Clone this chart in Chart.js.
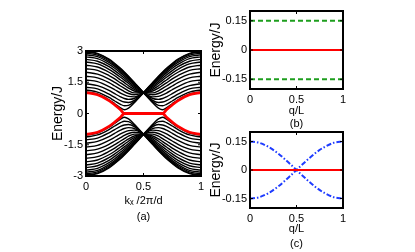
<!DOCTYPE html>
<html>
<head>
<meta charset="utf-8">
<script src="https://cdn.jsdelivr.net/npm/chart.js@4"></script>
<style>
  html, body { margin: 0; padding: 0; background: #fff; }
  body { width: 415px; height: 252px; position: relative; overflow: hidden; }
  canvas { position: absolute; }
</style>
</head>
<body>
<canvas id="chartA" width="166" height="185" style="left:45px;top:40px"></canvas>
<canvas id="chartB" width="150" height="130" style="left:203px;top:0px"></canvas>
<canvas id="chartC" width="150" height="131" style="left:203px;top:120px"></canvas>
<script>
// panel (a): k_x samples (units of 2pi/d)
const kx = [0, 0.1, 0.2, 0.25, 0.3, 0.3333, 0.37, 0.42, 0.5, 0.58, 0.63, 0.6667, 0.7, 0.75, 0.8, 0.9, 1];

const upperBands = [
  [2.99, 2.89, 2.61, 2.40, 2.17, 1.99, 1.79, 1.49, 1, 0.52, 0.26, 0.18, 0.27, 0.47, 0.66, 0.94, 1.03],
  [2.95, 2.86, 2.58, 2.37, 2.14, 1.97, 1.76, 1.47, 1, 0.57, 0.39, 0.37, 0.44, 0.60, 0.77, 1.03, 1.13],
  [2.90, 2.80, 2.52, 2.32, 2.09, 1.92, 1.73, 1.45, 1, 0.63, 0.53, 0.55, 0.62, 0.77, 0.93, 1.18, 1.26],
  [2.82, 2.73, 2.45, 2.26, 2.03, 1.86, 1.67, 1.41, 1, 0.72, 0.68, 0.72, 0.80, 0.95, 1.11, 1.34, 1.43],
  [2.72, 2.63, 2.36, 2.17, 1.95, 1.79, 1.61, 1.36, 1, 0.80, 0.82, 0.89, 0.98, 1.14, 1.29, 1.53, 1.61],
  [2.60, 2.51, 2.25, 2.06, 1.85, 1.70, 1.53, 1.30, 1, 0.90, 0.96, 1.05, 1.16, 1.32, 1.48, 1.71, 1.79],
  [2.47, 2.38, 2.12, 1.94, 1.74, 1.60, 1.44, 1.23, 1, 0.99, 1.09, 1.21, 1.32, 1.49, 1.65, 1.89, 1.98],
  [2.32, 2.23, 1.98, 1.81, 1.61, 1.48, 1.33, 1.16, 1, 1.08, 1.22, 1.35, 1.47, 1.66, 1.82, 2.07, 2.15],
  [2.15, 2.07, 1.82, 1.66, 1.47, 1.35, 1.22, 1.08, 1, 1.16, 1.33, 1.48, 1.61, 1.81, 1.98, 2.23, 2.32],
  [1.98, 1.89, 1.65, 1.49, 1.32, 1.21, 1.09, 0.99, 1, 1.23, 1.44, 1.60, 1.74, 1.94, 2.12, 2.38, 2.47],
  [1.79, 1.71, 1.48, 1.32, 1.16, 1.05, 0.96, 0.90, 1, 1.30, 1.53, 1.70, 1.85, 2.06, 2.25, 2.51, 2.60],
  [1.61, 1.53, 1.29, 1.14, 0.98, 0.89, 0.82, 0.80, 1, 1.36, 1.61, 1.79, 1.95, 2.17, 2.36, 2.63, 2.72],
  [1.43, 1.34, 1.11, 0.95, 0.80, 0.72, 0.68, 0.72, 1, 1.41, 1.67, 1.86, 2.03, 2.26, 2.45, 2.73, 2.82],
  [1.26, 1.18, 0.93, 0.77, 0.62, 0.55, 0.53, 0.63, 1, 1.45, 1.73, 1.92, 2.09, 2.32, 2.52, 2.80, 2.90],
  [1.13, 1.03, 0.77, 0.60, 0.44, 0.37, 0.39, 0.57, 1, 1.47, 1.76, 1.97, 2.14, 2.37, 2.58, 2.86, 2.95],
  [1.03, 0.94, 0.66, 0.47, 0.27, 0.18, 0.26, 0.52, 1, 1.49, 1.79, 1.99, 2.17, 2.40, 2.61, 2.89, 2.99]
];

const lowerBands = [
  [-2.99, -2.89, -2.61, -2.40, -2.17, -1.99, -1.79, -1.49, -1, -0.52, -0.26, -0.18, -0.27, -0.47, -0.66, -0.94, -1.03],
  [-2.95, -2.86, -2.58, -2.37, -2.14, -1.97, -1.76, -1.47, -1, -0.57, -0.39, -0.37, -0.44, -0.60, -0.77, -1.03, -1.13],
  [-2.90, -2.80, -2.52, -2.32, -2.09, -1.92, -1.73, -1.45, -1, -0.63, -0.53, -0.55, -0.62, -0.77, -0.93, -1.18, -1.26],
  [-2.82, -2.73, -2.45, -2.26, -2.03, -1.86, -1.67, -1.41, -1, -0.72, -0.68, -0.72, -0.80, -0.95, -1.11, -1.34, -1.43],
  [-2.72, -2.63, -2.36, -2.17, -1.95, -1.79, -1.61, -1.36, -1, -0.80, -0.82, -0.89, -0.98, -1.14, -1.29, -1.53, -1.61],
  [-2.60, -2.51, -2.25, -2.06, -1.85, -1.70, -1.53, -1.30, -1, -0.90, -0.96, -1.05, -1.16, -1.32, -1.48, -1.71, -1.79],
  [-2.47, -2.38, -2.12, -1.94, -1.74, -1.60, -1.44, -1.23, -1, -0.99, -1.09, -1.21, -1.32, -1.49, -1.65, -1.89, -1.98],
  [-2.32, -2.23, -1.98, -1.81, -1.61, -1.48, -1.33, -1.16, -1, -1.08, -1.22, -1.35, -1.47, -1.66, -1.82, -2.07, -2.15],
  [-2.15, -2.07, -1.82, -1.66, -1.47, -1.35, -1.22, -1.08, -1, -1.16, -1.33, -1.48, -1.61, -1.81, -1.98, -2.23, -2.32],
  [-1.98, -1.89, -1.65, -1.49, -1.32, -1.21, -1.09, -0.99, -1, -1.23, -1.44, -1.60, -1.74, -1.94, -2.12, -2.38, -2.47],
  [-1.79, -1.71, -1.48, -1.32, -1.16, -1.05, -0.96, -0.90, -1, -1.30, -1.53, -1.70, -1.85, -2.06, -2.25, -2.51, -2.60],
  [-1.61, -1.53, -1.29, -1.14, -0.98, -0.89, -0.82, -0.80, -1, -1.36, -1.61, -1.79, -1.95, -2.17, -2.36, -2.63, -2.72],
  [-1.43, -1.34, -1.11, -0.95, -0.80, -0.72, -0.68, -0.72, -1, -1.41, -1.67, -1.86, -2.03, -2.26, -2.45, -2.73, -2.82],
  [-1.26, -1.18, -0.93, -0.77, -0.62, -0.55, -0.53, -0.63, -1, -1.45, -1.73, -1.92, -2.09, -2.32, -2.52, -2.80, -2.90],
  [-1.13, -1.03, -0.77, -0.60, -0.44, -0.37, -0.39, -0.57, -1, -1.47, -1.76, -1.97, -2.14, -2.37, -2.58, -2.86, -2.95],
  [-1.03, -0.94, -0.66, -0.47, -0.27, -0.18, -0.26, -0.52, -1, -1.49, -1.79, -1.99, -2.17, -2.40, -2.61, -2.89, -2.99]
];

// edge states (red)
const edgeUpper = [1, 0.90, 0.62, 0.41, 0.18, 0, 0, 0, 0, 0, 0, 0, 0.18, 0.41, 0.62, 0.90, 1];
const edgeLower = [-1, -0.90, -0.62, -0.41, -0.18, 0, 0, 0, 0, 0, 0, 0, -0.18, -0.41, -0.62, -0.90, -1];

// panel (b)
const qB = [0, 1];
const zeroB = [0, 0];
const greenTop = [0.15, 0.15];
const greenBottom = [-0.15, -0.15];

// panel (c)
const qC = [0, 0.1, 0.2, 0.3, 0.4, 0.5, 0.6, 0.7, 0.8, 0.9, 1];
const zeroC = [0, 0, 0, 0, 0, 0, 0, 0, 0, 0, 0];
const blueDown = [0.15, 0.143, 0.121, 0.088, 0.046, 0, -0.046, -0.088, -0.121, -0.143, -0.15];
const blueUp = [-0.15, -0.143, -0.121, -0.088, -0.046, 0, 0.046, 0.088, 0.121, 0.143, 0.15];

const yTicksA = [-3, -1.5, 0, 1.5, 3];
const yTicksBC = [-0.15, 0, 0.15];
const xTicks = [0, 0.5, 1];

const FONT = 'Liberation Sans, Arial, Helvetica, sans-serif';

function line(xs, ys, color, width, dash) {
    return {
        data: xs.map((x, i) => ({ x: x, y: ys[i] })),
        borderColor: color,
        borderWidth: width,
        borderDash: dash || [],
        pointRadius: 0,
        fill: false,
        cubicInterpolationMode: 'monotone'
    };
}

// box + inward ticks, matlab style
const boxPlugin = {
    id: 'box',
    afterDraw(chart) {
        const { ctx, chartArea: a, scales: { x, y } } = chart;
        ctx.save();
        ctx.strokeStyle = '#000';
        ctx.lineWidth = 1;
        ctx.beginPath();
        x.ticks.forEach(t => {
            const px = x.getPixelForValue(t.value);
            ctx.moveTo(px, a.bottom); ctx.lineTo(px, a.bottom - 3);
            ctx.moveTo(px, a.top); ctx.lineTo(px, a.top + 3);
        });
        y.ticks.forEach(t => {
            const py = y.getPixelForValue(t.value);
            ctx.moveTo(a.left, py); ctx.lineTo(a.left + 3, py);
            ctx.moveTo(a.right, py); ctx.lineTo(a.right - 3, py);
        });
        ctx.stroke();
        ctx.lineWidth = 2;
        ctx.strokeRect(a.left, a.top, a.right - a.left, a.bottom - a.top);
        ctx.restore();
    }
};

function options(cfg) {
    return {
        responsive: false,
        animation: false,
        layout: { padding: { top: cfg.padTop, right: 10, left: 0, bottom: 0 } },
        plugins: { legend: { display: false }, tooltip: { enabled: false } },
        scales: {
            x: {
                type: 'linear', min: 0, max: 1,
                grid: { display: false, drawTicks: false }, border: { display: false },
                afterBuildTicks: s => { s.ticks = xTicks.map(v => ({ value: v })); },
                ticks: { padding: 4, color: '#000', maxRotation: 0, font: { family: FONT, size: 11 }, callback: v => String(v) },
                title: { display: true, text: cfg.xTitle, color: '#000', padding: 0,
                         font: { family: FONT, size: 11, lineHeight: cfg.xLine } },
                afterFit: s => { s.height = cfg.xHeight; }
            },
            y: {
                type: 'linear', min: cfg.yMin, max: cfg.yMax,
                grid: { display: false, drawTicks: false }, border: { display: false },
                afterBuildTicks: s => { s.ticks = cfg.yTicks.map(v => ({ value: v })); },
                ticks: { padding: 3, color: '#000', font: { family: FONT, size: 11 }, callback: v => String(v) },
                title: { display: true, text: 'Energy/J', color: '#000', padding: { top: 5, bottom: 0 },
                         font: { family: FONT, size: 14, lineHeight: 1.2 } },
                afterFit: s => { s.width = cfg.yWidth; }
            }
        }
    };
}

// (a)
const dsA = [line(kx, edgeUpper, '#ff0000', 2.8), line(kx, edgeLower, '#ff0000', 2.8)];
upperBands.forEach(b => dsA.push(line(kx, b, '#000', 1.4)));
lowerBands.forEach(b => dsA.push(line(kx, b, '#000', 1.4)));

new Chart(document.getElementById('chartA'), {
    type: 'line',
    data: { datasets: dsA },
    options: options({ padTop: 11, xHeight: 49, xLine: 16 / 11, yWidth: 41, yMin: -3, yMax: 3,
                       yTicks: yTicksA, xTitle: ['kₓ /2π/d', '(a)'] }),
    plugins: [boxPlugin]
});

// (b)
new Chart(document.getElementById('chartB'), {
    type: 'line',
    data: { datasets: [
        line(qB, zeroB, '#ff0000', 2.2),
        line(qB, greenTop, '#1e9e1e', 2, [5, 3]),
        line(qB, greenBottom, '#1e9e1e', 2, [5, 3])
    ] },
    options: options({ padTop: 11, xHeight: 41, xLine: 13 / 11, yWidth: 47, yMin: -0.2, yMax: 0.2,
                       yTicks: yTicksBC, xTitle: ['q/L', '(b)'] }),
    plugins: [boxPlugin]
});

// (c)
new Chart(document.getElementById('chartC'), {
    type: 'line',
    data: { datasets: [
        line(qC, zeroC, '#ff0000', 2.2),
        line(qC, blueDown, '#1f3cff', 2, [5, 2, 1.5, 2]),
        line(qC, blueUp, '#1f3cff', 2, [5, 2, 1.5, 2])
    ] },
    options: options({ padTop: 12, xHeight: 43, xLine: 14.5 / 11, yWidth: 47, yMin: -0.2, yMax: 0.2,
                       yTicks: yTicksBC, xTitle: ['q/L', '(c)'] }),
    plugins: [boxPlugin]
});
</script>
</body>
</html>
